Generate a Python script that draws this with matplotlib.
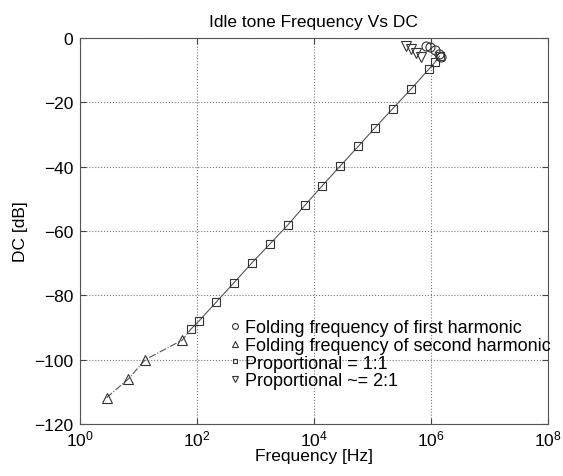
import numpy as np
import matplotlib
matplotlib.use('Agg')
import matplotlib.pyplot as plt

plt.rcParams['font.family'] = ['Liberation Sans', 'DejaVu Sans']
plt.rcParams['mathtext.fontset'] = 'custom'
plt.rcParams['mathtext.rm'] = 'Liberation Sans'
plt.rcParams['mathtext.it'] = 'Liberation Sans'

# datos
freq_first = [8.2e5, 9.5e5, 1.17e6, 1.38e6, 1.48e6]
dc_first = [-2.3, -2.8, -3.7, -5.0, -5.8]

freq_second = [2.86, 6.7, 13.1, 56.1, 79]
dc_second = [-111.8, -106.0, -100.0, -93.9, -90.5]

freq_prop = [79, 107, 211, 429, 861, 1750, 3550, 7020, 13900, 27800, 57100,
             112000, 224000, 455000, 933000, 1175000, 1410000]
dc_prop = [-90.5, -88.1, -82.2, -76.1, -70.0, -64.1, -58.2, -52.0, -45.9,
           -39.9, -33.7, -27.8, -21.9, -15.9, -9.6, -7.5, -5.6]

freq_prop2 = [3.74e5, 4.55e5, 5.55e5, 6.75e5]
dc_prop2 = [-2.5, -3.4, -4.7, -5.9]

x_ticks = [1, 1e2, 1e4, 1e6, 1e8]
y_ticks = [0, -20, -40, -60, -80, -100, -120]

fig = plt.figure(figsize=(5.63, 4.77), dpi=100)
ax = fig.add_axes([0.142, 0.109, 0.831, 0.809])

line_col = '#555555'
ax.plot(freq_second, dc_second, linestyle='-.', color=line_col, lw=0.8,
        marker='^', mfc='none', mec='#333333', ms=6.5, mew=0.8,
        markevery=[0, 1, 2, 3], label='Folding frequency of second harmonic')
ax.plot(freq_prop, dc_prop, linestyle='-', color=line_col, lw=0.8,
        marker='s', mfc='none', mec='#333333', ms=5.5, mew=0.8,
        label='Proportional = 1:1')
ax.plot(freq_first, dc_first, linestyle='none',
        marker='o', mfc='none', mec='#333333', ms=6.5, mew=0.8,
        label='Folding frequency of first harmonic')
ax.plot(freq_prop2, dc_prop2, linestyle='none',
        marker='v', mfc='none', mec='#333333', ms=6.5, mew=0.8,
        label='Proportional ~= 2:1')

ax.set_xscale('log')
ax.set_xlim(1, 1e8)
ax.set_ylim(-120, 0)
ax.set_xticks(x_ticks)
ax.set_yticks(y_ticks)
ax.xaxis.set_minor_locator(matplotlib.ticker.NullLocator())
ax.tick_params(direction='in', top=True, right=True, labelsize=12.5, length=4,
               color='#444444', pad=3)
ax.tick_params(axis='y', pad=5)
ax.grid(True, linestyle=':', color='#777777', lw=0.8)
for s in ax.spines.values():
    s.set_color('#555555')
    s.set_linewidth(0.8)

ax.set_title('Idle tone Frequency Vs DC', fontsize=12.5, pad=9)
ax.set_xlabel('Frequency [Hz]', fontsize=12.5, labelpad=0)
ax.set_ylabel('DC [dB]', fontsize=12.5, labelpad=4)

h, l = ax.get_legend_handles_labels()
order = [2, 0, 1, 3]
leg = ax.legend([h[i] for i in order], [l[i] for i in order],
                loc='upper left', bbox_to_anchor=(0.302, 0.295),
                frameon=False, fontsize=13, handlelength=0.5,
                handletextpad=0.3, labelspacing=0.04, borderpad=0,
                markerscale=0.65)
for lh in leg.legend_handles:
    lh.set_linestyle('none')

fig.savefig('out.png', dpi=100)
